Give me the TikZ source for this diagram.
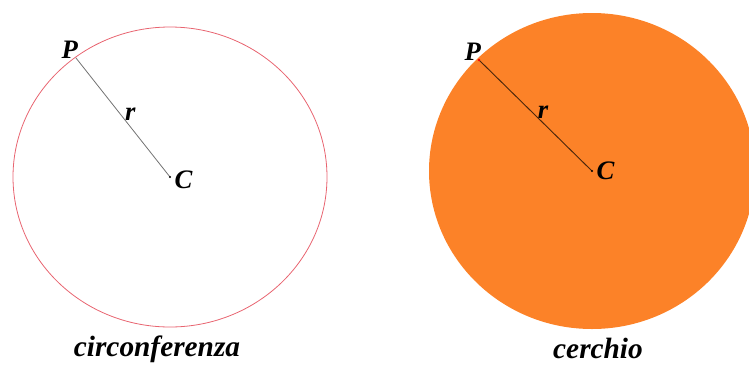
\documentclass[tikz,border=0pt]{standalone}
\usepackage{fontspec}
\setmainfont{Liberation Serif}
\usetikzlibrary{positioning}
\definecolor{bordo}{RGB}{232,100,112}
\definecolor{arancio}{RGB}{252,130,40}
\tikzset{didascalia/.style={font=\fontsize{22}{24}\selectfont\bfseries\itshape}}
\begin{document}
\begin{tikzpicture}[x=0.75pt, y=-0.75pt, font=\fontsize{20}{22}\selectfont\bfseries\itshape, line join=round, line cap=round]
	\useasboundingbox (0,0) rectangle (749,365);
	\clip (0,0) rectangle (749,365);
	% circonferenza
	\coordinate (C1) at (170,177);
	\coordinate (P1) at (76,58);
	\draw[bordo, line width=0.6pt] (C1) ellipse [x radius=157, y radius=150];
	\draw[gray!90!black, line width=0.6pt] (P1) -- (C1) node[black, pos=0.5, above right=-6pt and -2pt] (r1) {r};
	\fill (C1) circle (1.1);
	\node[above left=-4pt and -5pt of P1] (lP1) {P};
	\node[right=0pt of C1, yshift=-2] (lC1) {C};
	\node[didascalia] (t1) at (157,349) {circonferenza};
	% cerchio
	\coordinate (C2) at (592,171);
	\coordinate (P2) at (479,60);
	\fill[arancio] (C2) ellipse [x radius=163, y radius=158];
	\draw[black!70!arancio, line width=0.7pt] (P2) -- (C2) node[black, pos=0.5, above right=-6pt and -2pt] (r2) {r};
	\fill[red] (P2) circle (1.3);
	\fill (C2) circle (1.1);
	\node[above left=-4pt and -5pt of P2] (lP2) {P};
	\node[right=0pt of C2] (lC2) {C};
	\node[didascalia] (t2) at (598,348) {cerchio};
\end{tikzpicture}
\end{document}
